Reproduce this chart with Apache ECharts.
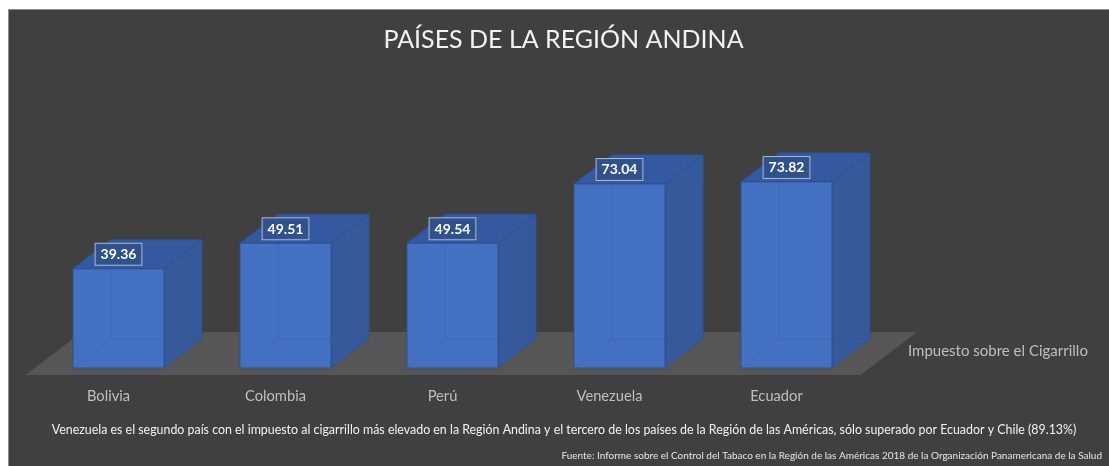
<!DOCTYPE html>
<html>
<head>
<meta charset="utf-8">
<script src="https://cdn.jsdelivr.net/npm/echarts@6/dist/echarts.min.js"></script>
<style>
html,body{margin:0;padding:0;background:#ffffff;}
#chart{width:1109px;height:466px;}
</style>
</head>
<body>
<div id="chart"></div>
<script>
const titleText = 'PAÍSES DE LA REGIÓN ANDINA';
const categories = ['Bolivia', 'Colombia', 'Perú', 'Venezuela', 'Ecuador'];
const seriesName = 'Impuesto sobre el Cigarrillo';
const values = [39.36, 49.51, 49.54, 73.04, 73.82];
const captionText = 'Venezuela es el segundo país con el impuesto al cigarrillo más elevado en la Región Andina y el tercero de los países de la Región de las Américas, sólo superado por Ecuador y Chile (89.13%)';
const sourceText = 'Fuente: Informe sobre el Control del Tabaco en la Región de las Américas 2018 de la Organización Panamericana de la Salud';

const FONT = 'Lato, "Open Sans", sans-serif';
const DEPTH_X = 38, DEPTH_Y = -29;

const chart = echarts.init(document.getElementById('chart'), null, {renderer: 'canvas'});

function renderFloor(params, api) {
  const c0 = api.coord([0, 0]);
  const band = api.size([1, 0])[0];
  const left = c0[0] - band / 2;
  const right = left + band * categories.length;
  const base = c0[1];
  return {
    type: 'polygon',
    shape: {points: [
      [left - 9.5, base + 7], [right - 9.5, base + 7],
      [right + 47, base - 36], [left + 47, base - 36]
    ]},
    style: {fill: '#575656'}
  };
}

function renderBar(params, api) {
  const idx = api.value(0);
  const val = api.value(1);
  const top = api.coord([idx, val]);
  const bot = api.coord([idx, 0]);
  const band = api.size([1, 0])[0];
  const w = band * 0.545;
  const L = top[0] - w / 2, R = top[0] + w / 2;
  const T = top[1], B = bot[1];
  const edge = '#2f528f';
  const hidden = 'rgba(47,82,143,0.28)';
  return {
    type: 'group',
    children: [
      {type: 'polygon', shape: {points: [[R, T], [R + DEPTH_X, T + DEPTH_Y], [R + DEPTH_X, B + DEPTH_Y], [R, B]]},
        style: {fill: '#35599b', stroke: edge, lineWidth: 1}},
      {type: 'polygon', shape: {points: [[L, T], [L + DEPTH_X, T + DEPTH_Y], [R + DEPTH_X, T + DEPTH_Y], [R, T]]},
        style: {fill: '#3559a0', stroke: edge, lineWidth: 1}},
      {type: 'rect', shape: {x: L, y: T, width: w, height: B - T},
        style: {fill: '#4471c2', stroke: edge, lineWidth: 1}},
      {type: 'polyline', shape: {points: [[L, B], [L + DEPTH_X, B + DEPTH_Y], [R + DEPTH_X, B + DEPTH_Y]]},
        style: {fill: null, stroke: hidden, lineWidth: 1}},
      {type: 'line', shape: {x1: L + DEPTH_X, y1: T + DEPTH_Y, x2: L + DEPTH_X, y2: B + DEPTH_Y},
        style: {stroke: hidden, lineWidth: 1}},
      {type: 'text', z2: 10,
        style: {
          text: val.toFixed(2), x: top[0], y: T - 4,
          align: 'center', verticalAlign: 'bottom',
          font: 'bold 14px ' + FONT, fill: '#ffffff',
          backgroundColor: 'rgba(47,80,140,0.92)', borderColor: '#a9b4cb', borderWidth: 1,
          padding: [4, 5, 3, 5]
        }}
    ]
  };
}

chart.setOption({
  backgroundColor: 'transparent',
  animation: false,
  graphic: [
    {type: 'rect', z: -10, shape: {x: 8.5, y: 9.5, width: 1200, height: 500},
      style: {fill: '#404040', stroke: '#8c8c8c', lineWidth: 1}},
    {type: 'text', z: 10, style: {text: captionText, x: 564, y: 430, align: 'center', verticalAlign: 'middle',
      font: '12.4px ' + FONT, fill: '#f2f2f2'}},
    {type: 'text', z: 10, style: {text: sourceText, x: 1102, y: 456, align: 'right', verticalAlign: 'middle',
      font: '10px ' + FONT, fill: '#e6e6e6'}}
  ],
  title: {
    text: titleText, left: 563.5, top: 27, textAlign: 'center', padding: 0,
    textStyle: {color: '#f2f2f2', fontSize: 25, fontWeight: 'normal', fontFamily: FONT}
  },
  legend: {
    data: [seriesName], left: 903, top: 344, padding: 0, icon: 'none', itemWidth: 0,
    textStyle: {color: '#bfbfbf', fontSize: 15, fontFamily: FONT}
  },
  grid: {left: 35, top: 116, width: 835, height: 252},
  xAxis: {
    type: 'category', data: categories,
    axisLine: {show: false}, axisTick: {show: false}, splitLine: {show: false},
    axisLabel: {color: '#bfbfbf', fontSize: 14.7, fontFamily: FONT, margin: 21, padding: [0, 20, 0, 0]}
  },
  yAxis: {
    type: 'value', min: 0, max: 100, interval: 20, show: false, splitLine: {show: false}
  },
  series: [
    {type: 'custom', name: 'floor', z: 1, silent: true, renderItem: renderFloor, data: [[0, 0]]},
    {type: 'custom', name: seriesName, z: 2, renderItem: renderBar,
      data: values.map((v, i) => [i, v]), encode: {x: 0, y: 1}}
  ]
});
</script>
</body>
</html>
